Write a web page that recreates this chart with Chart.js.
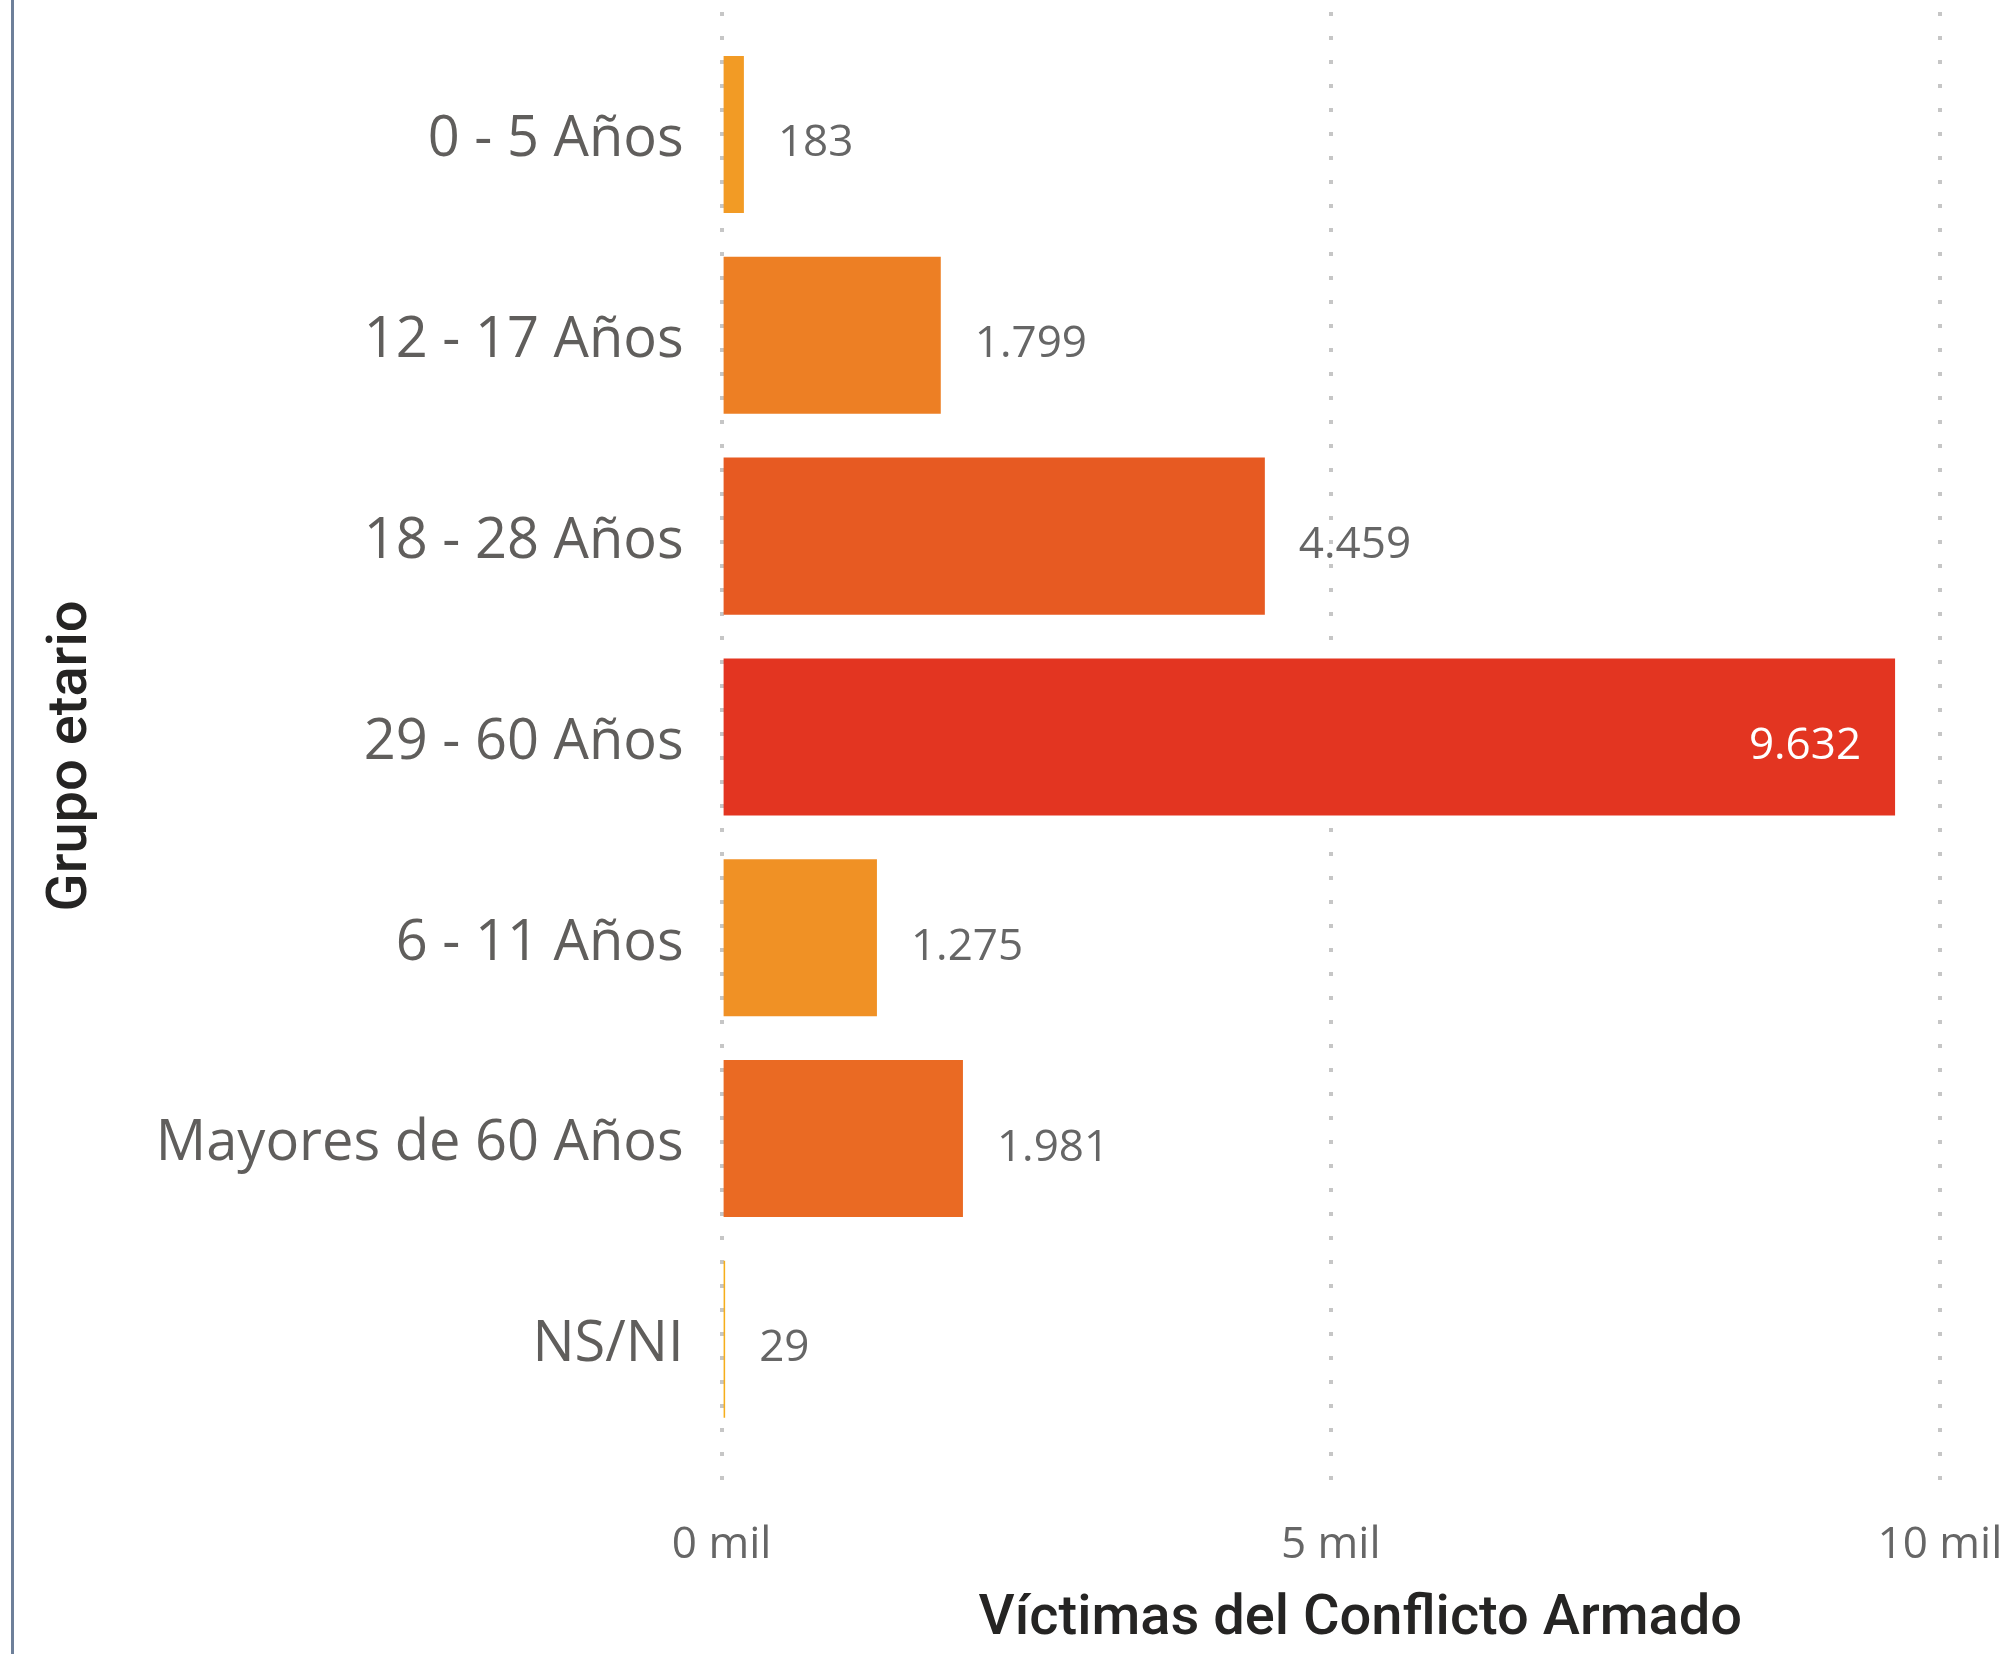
<!DOCTYPE html>
<html><head><meta charset="utf-8">
<script src="https://cdn.jsdelivr.net/npm/chart.js@4"></script>
<style>html,body{margin:0;padding:0;background:#fff;}canvas{display:block}</style>
</head><body>
<canvas id="c" width="1999" height="1654"></canvas>
<script>
const categories = ['0 - 5 Años','12 - 17 Años','18 - 28 Años','29 - 60 Años','6 - 11 Años','Mayores de 60 Años','NS/NI'];
const values = [183, 1799, 4459, 9632, 1275, 1981, 29];
const barColors = ['#F29B25','#ED7F24','#E75A22','#E33521','#F09125','#EA6A23','#F6AE1B'];
const xTickValues = [0, 5000, 10000];
const xTitle = 'Víctimas del Conflicto Armado';
const yTitle = 'Grupo etario';

const Y_MIN = -0.61, Y_MAX = 6.8;
const fmt = v => String(v).replace(/\B(?=(\d{3})+(?!\d))/g, '.');
const titleFont = {family: "Roboto, 'DejaVu Sans Condensed', sans-serif", size: 56, weight: 500};

const decor = {
  id: 'decor',
  beforeDraw(chart) {
    const ctx = chart.ctx;
    ctx.save();
    ctx.fillStyle = '#fff';
    ctx.fillRect(0, 0, chart.width, chart.height);
    ctx.fillStyle = '#6E809A';
    ctx.fillRect(11, 0, 3, chart.height);
    ctx.restore();
  },
  afterDatasetsDraw(chart) {
    const ctx = chart.ctx;
    const meta = chart.getDatasetMeta(0);
    ctx.save();
    ctx.font = '44px "Open Sans"';
    ctx.textBaseline = 'alphabetic';
    meta.data.forEach((bar, i) => {
      const txt = fmt(values[i]);
      const w = ctx.measureText(txt).width;
      const y = bar.y + 22;
      if (bar.x + 34 + w > chart.chartArea.right) {
        ctx.fillStyle = '#ffffff';
        ctx.textAlign = 'right';
        ctx.fillText(txt, bar.x - 34, y);
      } else {
        ctx.fillStyle = '#666666';
        ctx.textAlign = 'left';
        ctx.fillText(txt, bar.x + 34, y);
      }
    });
    ctx.restore();
  }
};

new Chart(document.getElementById('c'), {
  type: 'bar',
  data: {
    datasets: [{
      data: categories.map((c, i) => ({x: values[i], y: i})),
      backgroundColor: barColors,
      borderWidth: 0,
      barPercentage: 0.782,
      categoryPercentage: 1
    }]
  },
  plugins: [decor],
  options: {
    responsive: false,
    animation: false,
    indexAxis: 'y',
    layout: {padding: {top: 12, left: 0, right: 0, bottom: 0}},
    plugins: {legend: {display: false}, tooltip: {enabled: false}},
    scales: {
      x: {
        type: 'linear', position: 'bottom', min: 0, max: 10485, bounds: 'data', offset: false,
        afterBuildTicks: s => { s.ticks = xTickValues.map(v => ({value: v})); s.min = 0; s.max = 10485; },
        afterFit: s => { s.height = 154; s.paddingLeft = 0; s.paddingRight = 0; },
        grid: {color: '#c6c6c6', lineWidth: 4, drawTicks: false, offset: false},
        border: {display: false, dash: [4, 20]},
        ticks: {
          font: {family: "'Open Sans'", size: 44}, color: '#666666', padding: 19,
          maxRotation: 0, autoSkip: false,
          callback: v => (v / 1000) + ' mil'
        },
        title: {display: true, text: xTitle, font: titleFont, color: '#252423', padding: {top: 0, bottom: 0}}
      },
      y: {
        type: 'linear', reverse: true, min: Y_MIN, max: Y_MAX, bounds: 'data', offset: false,
        afterBuildTicks: s => { s.ticks = categories.map((c, i) => ({value: i})); s.min = Y_MIN; s.max = Y_MAX; },
        afterFit: s => { s.width = 721.6; s.paddingTop = 0; s.paddingBottom = 0; },
        grid: {display: false, drawTicks: false, offset: false},
        border: {display: false},
        ticks: {
          font: {family: "'Open Sans'", size: 56}, color: '#605E5C', padding: 38, labelOffset: 6,
          autoSkip: false,
          callback: v => categories[v] !== undefined ? categories[v] : ''
        },
        title: {display: true, text: yTitle, font: titleFont, color: '#252423', padding: {top: 38, bottom: 0}}
      }
    }
  }
});
</script>
</body></html>
